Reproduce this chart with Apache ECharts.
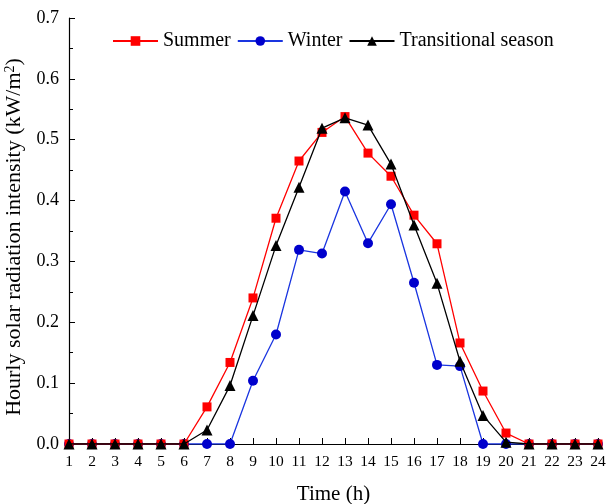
<!DOCTYPE html>
<html><head><meta charset="utf-8">
<script src="https://cdn.jsdelivr.net/npm/echarts@6/dist/echarts.min.js"></script>
<style>html,body{margin:0;padding:0;background:#fff}#c{width:607px;height:504px}</style>
</head><body><div id="c"></div>
<script>
var hours = [1,2,3,4,5,6,7,8,9,10,11,12,13,14,15,16,17,18,19,20,21,22,23,24];
var summer = [0,0,0,0,0,0,0.061,0.134,0.240,0.371,0.465,0.512,0.538,0.478,0.440,0.376,0.329,0.166,0.087,0.018,0,0,0,0];
var winter = [0,0,0,0,0,0,0,0,0.104,0.180,0.319,0.313,0.415,0.330,0.394,0.265,0.130,0.128,0,0,0,0,0,0];
var transitional = [0,0,0,0,0,0,0.023,0.096,0.211,0.326,0.422,0.519,0.536,0.524,0.460,0.360,0.264,0.136,0.047,0.003,0,0,0,0];
var names = ['Summer','Winter','Transitional season'];

function pairs(v){ return hours.map(function(h,i){ return [h, v[i]]; }); }
var font = 'Liberation Serif';
var chart = echarts.init(document.getElementById('c'));
chart.setOption({
  animation:false,
  textStyle:{fontFamily:font},
  grid:{left:69,right:9,top:18,bottom:60,containLabel:false,outerBoundsMode:'none'},
  legend:{
    top:26,left:107,itemGap:6,itemWidth:45,itemHeight:12,
    textStyle:{fontFamily:font,fontSize:20,color:'#000'},
    data:names
  },
  xAxis:{
    type:'value',min:1,max:24,interval:1,
    name:'Time (h)',nameLocation:'middle',nameGap:40,
    nameTextStyle:{fontFamily:font,fontSize:21,color:'#000'},
    axisLine:{onZero:false,lineStyle:{color:'#000',width:1.2}},
    axisTick:{inside:true,length:6,lineStyle:{color:'#000'}},
    axisLabel:{fontFamily:font,fontSize:15.5,color:'#000',margin:10},
    splitLine:{show:false}
  },
  yAxis:{
    type:'value',min:0,max:0.7,interval:0.1,
    name:'Hourly solar radiation intensity (kW/m{sup|2})',nameLocation:'middle',nameGap:31,
    nameTextStyle:{fontFamily:font,fontSize:22,color:'#000',padding:[0,12,0,0],
      rich:{sup:{fontFamily:font,fontSize:14,verticalAlign:'top',padding:[0,0,9,0],color:'#000'}}},
    axisLine:{show:true,lineStyle:{color:'#000',width:1.2}},
    axisTick:{inside:true,length:6,lineStyle:{color:'#000'}},
    minorTick:{show:true,splitNumber:2,length:4,lineStyle:{color:'#000'}},
    axisLabel:{fontFamily:font,fontSize:18,color:'#000',margin:10,formatter:function(v){return v.toFixed(1);}},
    splitLine:{show:false}
  },
  series:[
    {name:names[0],type:'line',data:pairs(summer),symbol:'rect',symbolSize:9,
     itemStyle:{color:'#ff0000'},lineStyle:{color:'#ff0000',width:1.3},z:3},
    {name:names[1],type:'line',data:pairs(winter),symbol:'circle',symbolSize:10,
     itemStyle:{color:'#0000cc'},lineStyle:{color:'#1a35e0',width:1.3},z:2},
    {name:names[2],type:'line',data:pairs(transitional),symbol:'triangle',symbolSize:11,
     itemStyle:{color:'#000'},lineStyle:{color:'#000',width:1.3},z:4}
  ]
});
</script></body></html>
